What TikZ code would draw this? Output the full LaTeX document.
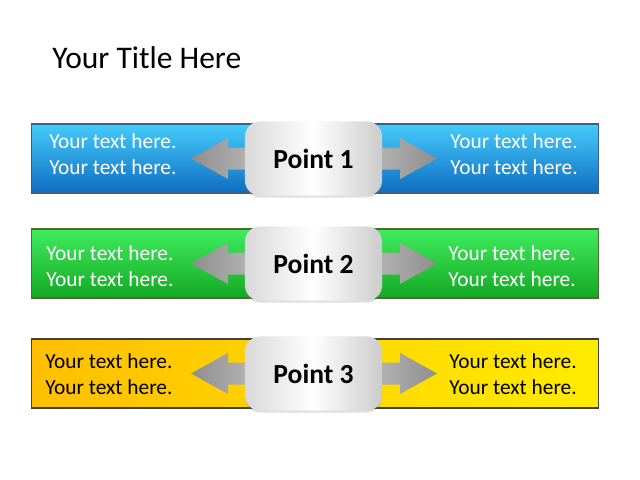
\documentclass[tikz,border=0pt]{standalone}
\usepackage{fontspec}
\setmainfont{Carlito}
\usetikzlibrary{positioning, calc, shadows}

\definecolor{bluetop}{HTML}{45CCFA}
\definecolor{bluebot}{HTML}{0F6DC2}
\definecolor{blueline}{HTML}{3A5F8A}
\definecolor{greentop}{HTML}{3FEC5E}
\definecolor{greenbot}{HTML}{14A823}
\definecolor{greenline}{HTML}{4F6B2E}
\definecolor{orangeside}{HTML}{FFBF00}
\definecolor{yellowmid}{HTML}{FFFF00}
\definecolor{yellowline}{HTML}{404040}
\definecolor{arrowdark}{HTML}{8E8E8E}
\definecolor{arrowlight}{HTML}{DADADA}

\begin{document}
\begin{tikzpicture}[x=0.025cm, y=-0.025cm,
    band/.style={minimum width=14.15cm, minimum height=1.725cm, inner sep=0pt, line width=0.8pt},
    bandblue/.style={band, draw=blueline, top color=bluetop, bottom color=bluebot},
    bandgreen/.style={band, draw=greenline, top color=greentop, bottom color=greenbot},
    bandyellow/.style={band, draw=yellowline, left color=orangeside, middle color=yellowmid, right color=yellowmid!70!orangeside},
    arrowbody/.style={left color=arrowdark, right color=arrowdark, middle color=arrowlight},
    pointbox/.style={rounded corners=0.375cm, minimum width=3.425cm, minimum height=1.85cm, inner sep=0pt,
        left color=gray!30, right color=gray!40, middle color=white,
        drop shadow={opacity=0.25, shadow xshift=0pt, shadow yshift=-1.5pt},
        font=\fontsize{19.6}{23}\selectfont\bfseries},
    txt/.style={align=left, inner sep=0pt, font=\fontsize{15.2}{18.3}\selectfont}]
    \useasboundingbox (0,0) rectangle (640,480);
    \node[anchor=base west, inner sep=0pt, font=\fontsize{22.4}{27}\selectfont] (title) at (52,68.5) {Your Title Here};
    \foreach \i/\y/\sty/\tc/\ty/\lx/\rx in {1/158.5/bandblue/white/-4.5/49/578, 2/263.5/bandgreen/white/2.5/46/576, 3/373.5/bandyellow/black/0.5/45/577} {
        \node[\sty] (band\i) at (315,\y) {};
        \coordinate (mid\i) at (314,\y);
        \path[arrowbody, shift={(mid\i)}] (-123,0) -- (-86,-20.5) -- (-86,-11) -- (86,-11) -- (86,-20.5) -- (123,0)
            -- (86,20.5) -- (86,11) -- (-86,11) -- (-86,20.5) -- cycle;
        \node[pointbox] (pt\i) at (313.5,\y) {Point \i};
        \node[txt, text=\tc, anchor=west] (left\i) at (\lx,\y+\ty) {Your text here.\\Your text here.};
        \node[txt, text=\tc, anchor=east] (right\i) at (\rx,\y+\ty) {Your text here.\\Your text here.};
    }
\end{tikzpicture}
\end{document}
